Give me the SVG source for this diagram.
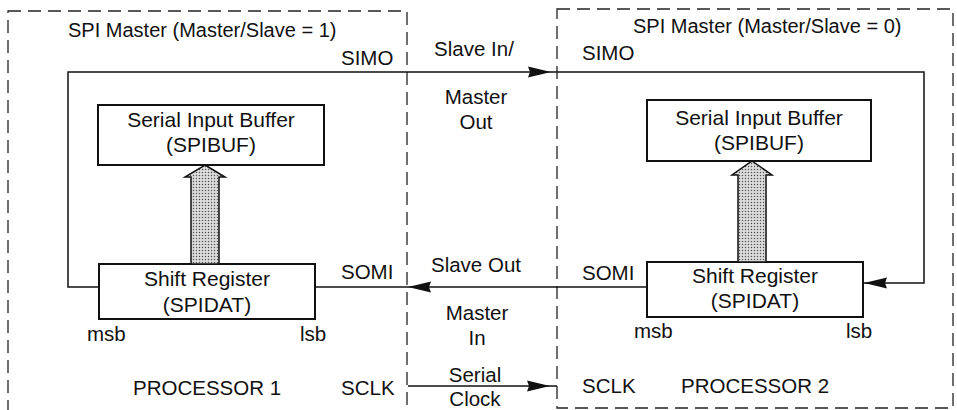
<svg xmlns="http://www.w3.org/2000/svg" width="957" height="410" viewBox="0 0 957 410">
<style>
text{font-family:"Liberation Sans",Arial,Helvetica,sans-serif;font-size:20.5px;fill:#111}
.t{font-size:20px}
.b{font-size:21px}
.c{text-anchor:middle}
.dash{fill:none;stroke:#222;stroke-width:1.3;stroke-dasharray:13 7}
.box{fill:#fff;stroke:#111;stroke-width:2}
.wire{fill:none;stroke:#111;stroke-width:1.5}
.fat{fill:url(#dots);stroke:#111;stroke-width:1.5}
</style>
<defs>
<pattern id="dots" width="3" height="3" patternUnits="userSpaceOnUse">
<rect width="3" height="3" fill="#dcdcdc"/>
<circle cx="1.5" cy="1.5" r="0.75" fill="#555"/>
</pattern>
<marker id="arr" markerUnits="userSpaceOnUse" viewBox="0 0 23 12" markerWidth="23" markerHeight="12" refX="23" refY="6" orient="auto">
<path d="M0,0.5 L23,6 L0,11.5 L2,6 z" fill="#111"/>
</marker>
</defs>
<rect width="957" height="410" fill="#fff"/>
<g id="processor1">
<rect class="dash" x="8" y="11" width="399" height="412"/>
<text class="t" x="68" y="37">SPI Master (Master/Slave = 1)</text>
<text x="341" y="65">SIMO</text>
<text x="341" y="279">SOMI</text>
<text x="341" y="395">SCLK</text>
<text x="133" y="395">PROCESSOR 1</text>
</g>
<g id="processor2">
<rect class="dash" x="557" y="9" width="396" height="399"/>
<text class="t" x="633" y="33">SPI Master (Master/Slave = 0)</text>
<text x="582" y="60">SIMO</text>
<text x="582" y="280">SOMI</text>
<text x="582" y="393">SCLK</text>
<text x="681" y="393">PROCESSOR 2</text>
</g>
<g id="spibuf1">
<rect class="box" x="98" y="105" width="226" height="60"/>
<text class="c b" x="211" y="127">Serial Input Buffer</text>
<text class="c b" x="211" y="152">(SPIBUF)</text>
</g>
<g id="spidat1">
<rect class="box" x="99" y="264" width="216" height="55"/>
<text class="c b" x="207" y="286">Shift Register</text>
<text class="c b" x="207" y="312">(SPIDAT)</text>
<text x="87" y="341">msb</text>
<text x="300" y="341">lsb</text>
</g>
<g id="spibuf2">
<rect class="box" x="647" y="100" width="224" height="61"/>
<text class="c b" x="759" y="125">Serial Input Buffer</text>
<text class="c b" x="759" y="150">(SPIBUF)</text>
</g>
<g id="spidat2">
<rect class="box" x="647" y="262" width="216" height="55"/>
<text class="c b" x="755" y="283">Shift Register</text>
<text class="c b" x="755" y="308">(SPIDAT)</text>
<text x="634" y="338">msb</text>
<text x="846" y="338">lsb</text>
</g>
<g id="connectors">
<path class="wire" d="M99,287 H68 V72 H551" marker-end="url(#arr)"/>
<path class="wire" d="M551,72 H924 V283 H864" marker-end="url(#arr)"/>
<path class="wire" d="M647,287 H408" marker-end="url(#arr)"/>
<path class="wire" d="M408,287 H315"/>
<path class="wire" d="M408,386 H550" marker-end="url(#arr)"/>
<path class="wire" d="M550,386 H557"/>
<polygon class="fat" points="205,165 225,177 219,177 219,264 191,264 191,177 185,177"/>
<polygon class="fat" points="752,161 772,175 766,175 766,262 738,262 738,175 732,175"/>
<text class="c" x="474" y="56">Slave In/</text>
<text class="c" x="476" y="104">Master</text>
<text class="c" x="476" y="129">Out</text>
<text class="c" x="476" y="272">Slave Out</text>
<text class="c" x="477" y="320">Master</text>
<text class="c" x="477" y="345">In</text>
<text class="c" x="475" y="382">Serial</text>
<text class="c" x="475" y="406">Clock</text>
</g>
</svg>
